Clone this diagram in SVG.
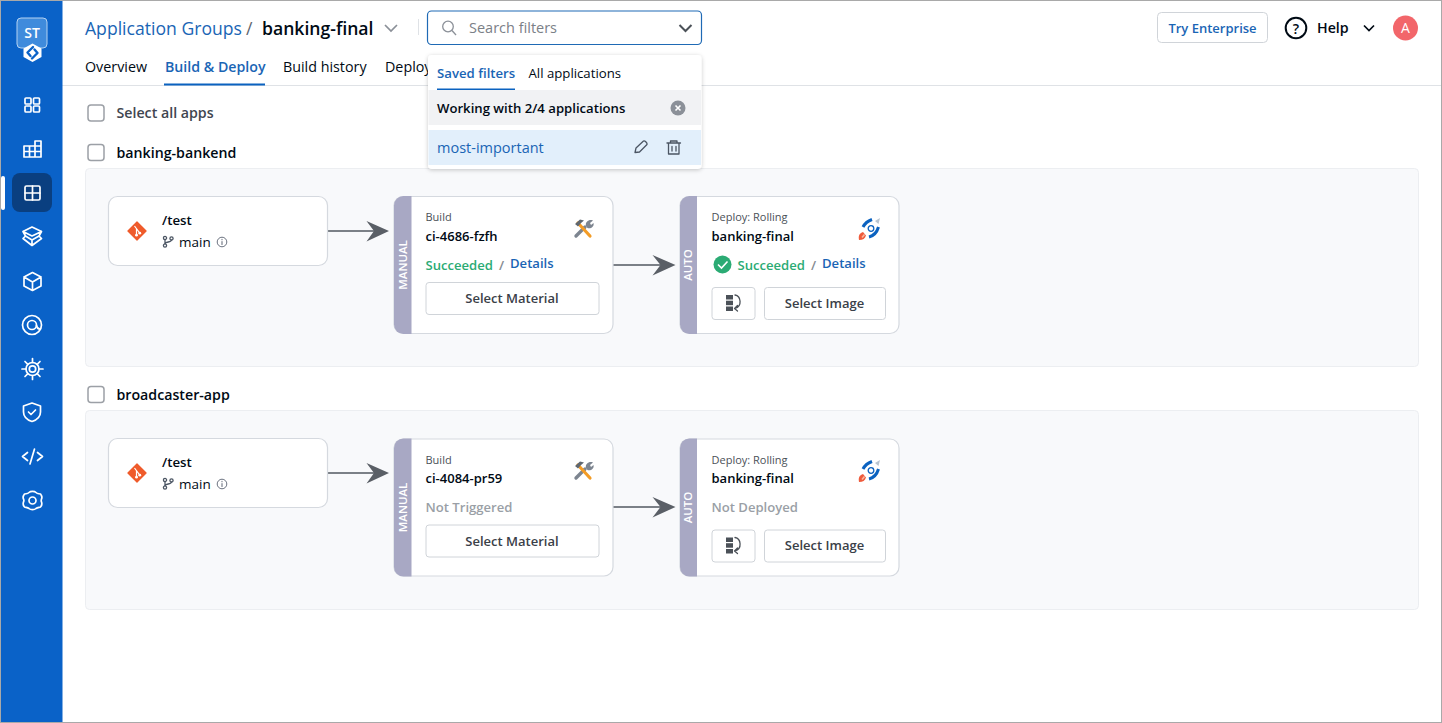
<svg xmlns="http://www.w3.org/2000/svg" xmlns:xlink="http://www.w3.org/1999/xlink" width="1442" height="723" viewBox="0 0 1442 723">
<style>
text{font-family:"Open Sans","Noto Sans","Liberation Sans",sans-serif;fill:#000a14}
.sb{fill:none;stroke:#fff;stroke-width:1.7;stroke-linecap:round;stroke-linejoin:round}
.ic{fill:none;stroke:#4b5563;stroke-width:1.3;stroke-linecap:round;stroke-linejoin:round}
.card{fill:#fff;stroke:#d5d9df;stroke-width:1.2}
.btn{fill:#fff;stroke:#d0d4d9;stroke-width:1}
.cb{fill:#fff;stroke:#9ca0a6;stroke-width:1.5}
.sm{font-size:11px;fill:#4b5158}
.nm{font-size:13px;font-weight:600}
.blue{fill:#1a65b5}
.bt{font-size:13px;font-weight:600;fill:#3a4048;text-anchor:middle}
.st{font-size:13.100px;font-weight:600}
.grn{fill:#2bab74}
.gry{fill:#858b92}
.side{fill:#a8a8c4}
.vt{font-size:11.500px;font-weight:600;fill:#fff;text-anchor:middle}
.conn{stroke:#7b8087;stroke-width:2;fill:none}
.head{fill:#5a5f66}
</style>
<defs>
<filter id="pop" x="-5%" y="-10%" width="110%" height="125%"><feDropShadow dx="0" dy="1" stdDeviation="2" flood-color="#000" flood-opacity=".22"/></filter>
<g id="git"><path d="M0-10.500 10.500 0 0 10.500-10.500 0Z" fill="#ef5b2b" stroke="#ef5b2b" stroke-width="1.500" stroke-linejoin="round" transform="scale(.86)"/><path d="M-2.500-5 2.800 2.200M-.5-2.800V4.200" stroke="#fff" stroke-width="1.200" fill="none"/><circle cx="-.5" cy="4.200" r="1.400" fill="#fff"/><circle cx="2.800" cy="2.200" r="1.400" fill="#fff"/></g>
<g id="branch" class="ic"><circle cx="-3" cy="-3.500" r="1.600"/><circle cx="-3" cy="4" r="1.600"/><circle cx="3.500" cy="-3" r="1.600"/><path d="M-3-2V2.400M3.500-1.500C3.500 1-3 0-3 2.400"/></g>
<g id="info"><circle r="4.800" fill="none" stroke="#6b7280" stroke-width="1"/><path d="M0-.5V2.500M0-2.600V-2.300" stroke="#6b7280" stroke-width="1.100" stroke-linecap="round"/></g>
<g id="tools"><path d="M-8 7 1-2" stroke="#7d8590" stroke-width="3.400" stroke-linecap="round"/><path d="M-6-6 6 7" stroke="#f39c26" stroke-width="3.200" stroke-linecap="round"/><path d="M-9-5-4-9.500 0-8.500-3-6-6-2.500Z" fill="#5f6770"/><path d="M2-3C1-7 5-10 9-8.500L6-6 7-4 9.500-6C10.500-2 6.500 0 3.500-1Z" fill="#7d8590"/></g>
<g id="rocket"><path d="M-10 11C-11 6-9 4-6 3L-3 6.500C-4 9.500-6 11-10 11Z" fill="#ef5b3c"/><path d="M-7 8.500-4.500 5.500" stroke="#f9b9a0" stroke-width="1.500"/><path d="M-6-2C-4-6-1-8 3-9.500" stroke="#0b62c0" stroke-width="3" fill="none"/><path d="M6-8 11-11 9.500-5Z" fill="#b9c4d0"/><path d="M0 8C4 7 8 3 9.500-2" stroke="#0b62c0" stroke-width="3" fill="none"/><circle cx="2" cy="-.5" r="2.800" fill="#fff" stroke="#0b62c0" stroke-width="1.300"/></g>
<g id="rollback"><rect x="-7" y="-8" width="7" height="4.500" fill="#4b5158"/><rect x="-7" y="-2.300" width="7" height="4.500" fill="#4b5158"/><rect x="-7" y="3.500" width="7" height="4.500" fill="#4b5158"/><path d="M2-8C8-7 9.500 3 2 5.500M4.500 2.500 1.500 5.500 4.500 8" fill="none" stroke="#4b5158" stroke-width="1.300" stroke-linecap="round" stroke-linejoin="round"/></g>
</defs>
<rect width="1442" height="723" fill="#fff"/>
<g id="frame-lines"><rect x="62" y="85" width="1380" height="1" fill="#dfe2e6"/></g>

<g id="sidebar">
<rect x="1" y="1" width="61.500" height="722" fill="#0a62c8"/>
<rect x="1" y="176" width="4" height="34" rx="2" fill="#fff"/>
<rect x="12" y="173" width="40" height="39" rx="8" fill="#0a3f80"/>
<g id="logo"><rect x="17" y="18" width="30" height="30" rx="4" fill="#3f8bdc" stroke="#b4d2f2" stroke-width="1"/><text x="32" y="38" text-anchor="middle" font-size="14" font-weight="600" style="fill:#fff">ST</text><path d="M32.500 43.500 41.500 48.500 41.500 57 32.500 62 23.500 57 23.500 48.500Z" fill="#fff"/><path d="M33 47 27.500 52.500 30.500 56M32 58.500 37.500 53 34.500 49.500" stroke="#0a62c8" stroke-width="2.400" fill="none" stroke-linecap="round" stroke-linejoin="round"/></g>
<g id="i1" class="sb"><rect x="25" y="98" width="6" height="6" rx="1"/><rect x="33.500" y="98" width="6" height="6" rx="1"/><rect x="25" y="106" width="6" height="6" rx="1"/><rect x="33.500" y="106" width="6" height="6" rx="1"/></g>
<g id="i2" class="sb"><path d="M24 146H41V157H24ZM24 151.500H41M29.500 146V157M35 146V157M35 146V141H41V146"/></g>
<g id="i3" class="sb"><rect x="25" y="186" width="15" height="14" rx="1.500"/><path d="M32.500 186V200M25 193H40"/></g>
<g id="i4" class="sb"><path d="M32 227 41.500 231.500 32 236 23 231.500ZM23 231.500 25.500 236 23 238.500 32 245.500 41.500 238.500 39 236 41.500 231.500M25.500 236 32 240 39 236M32 240V245"/></g>
<g id="i5" class="sb"><path d="M32.500 272.500 41 277V286L32.500 290.500 24 286V277ZM24 277 32.500 282 41 277M32.500 282V290.500"/></g>
<g id="i6" class="sb"><circle cx="32" cy="325" r="9.500"/><circle cx="32" cy="325" r="4.500"/><path d="M36.500 325.500C37 328 38.500 329 40 329"/></g>
<g id="i7" class="sb"><circle cx="32.500" cy="369" r="3.200"/><circle cx="32.500" cy="369" r="6.500"/><path d="M32.500 358.500V362.500M32.500 375.500V379.500M22 369H26M39 369H43M25 361.500 27.800 364.300M37.200 373.700 40 376.500M25 376.500 27.800 373.700M37.200 364.300 40 361.500"/></g>
<g id="i8" class="sb"><path d="M32 403 40.500 406V412C40.500 417 36.500 420 32 421.500 27.500 420 23.500 417 23.500 412V406ZM28.500 412 31 414.500 35.500 410"/></g>
<g id="i9" class="sb"><path d="M27.500 452.500 22.500 456.500 27.500 460.500M37.500 452.500 42.500 456.500 37.500 460.500M34.500 449 30 464"/></g>
<g id="i10" class="sb"><circle cx="32.500" cy="500.500" r="3.500"/><path d="M29 492.500C30.500 491 34.500 491 36 492.500 37.500 494 39 493.500 40.500 494 42 496 42 498 41.500 499 41 500.500 41 501 41.500 502 42 503.500 42 505.500 40.500 507 39 507.500 37.500 507.500 36 508.500 34.500 510 30.500 510 29 508.500 27.500 507.500 26 507.500 24.500 507 23 505.500 23 503.500 23.500 502 24 501 24 500 23.500 499 23 498 23 496 24.500 494 26 493.500 27.500 494 29 492.500Z"/></g>
</g>

<g id="header">
<text x="85" y="34.500" font-size="17.600" class="blue">Application Groups</text>
<text x="246" y="34.500" font-size="17.600" style="fill:#5f6770">/</text>
<text x="262" y="34.500" font-size="17.600" font-weight="600">banking-final</text>
<path d="M385 25 391 31 397 25" fill="none" stroke="#8b9098" stroke-width="1.700"/>
<rect x="418" y="19" width="1" height="16" fill="#dfe2e6"/>
<text x="85" y="72" font-size="14.300">Overview</text>
<text x="165" y="72" font-size="14.200" font-weight="600" class="blue">Build &amp; Deploy</text>
<rect x="164" y="83.500" width="101" height="2" fill="#0b62c0"/>
<text x="283" y="72" font-size="14.300">Build history</text>
<text x="385" y="72" font-size="14.300">Deploy</text>
</g>

<g id="try-enterprise"><rect x="1157.500" y="12.500" width="110" height="30" rx="4" class="btn"/><text x="1212.500" y="33" text-anchor="middle" font-size="13" font-weight="600" class="blue">Try Enterprise</text></g>
<g id="help"><circle cx="1296" cy="28" r="10.300" fill="none" stroke="#000a14" stroke-width="2"/><text x="1296" y="33.500" text-anchor="middle" font-size="14" font-weight="600">?</text><text x="1317" y="33" font-size="14.200" font-weight="600">Help</text><path d="M1364 25.500 1369 30.500 1374 25.500" fill="none" stroke="#000a14" stroke-width="1.700"/></g>
<g id="avatar"><circle cx="1405.500" cy="28" r="12.500" fill="#f2666a"/><text x="1405.500" y="33" text-anchor="middle" font-size="14" style="fill:#fff">A</text></g>

<g id="select-all"><rect x="88" y="105" width="16" height="16" rx="3" class="cb"/><text x="116.500" y="118" font-size="14.200" font-weight="600" style="fill:#3f4650">Select all apps</text></g>
<g id="app-1-title"><rect x="88" y="144.500" width="16" height="16" rx="3" class="cb"/><text x="116.500" y="158" font-size="14.200" font-weight="600">banking-bankend</text></g>
<rect id="app-1-panel" x="85.500" y="168.500" width="1333" height="198" rx="4" fill="#f8f9fb" stroke="#eceef1"/>
<g id="app-2-title"><rect x="88" y="386.500" width="16" height="16" rx="3" class="cb"/><text x="116.500" y="400" font-size="14.200" font-weight="600">broadcaster-app</text></g>
<rect id="app-2-panel" x="85.500" y="410.500" width="1333" height="199" rx="4" fill="#f8f9fb" stroke="#eceef1"/>

<g id="connectors">
<path class="conn" d="M328 231H380"/><path class="head" d="M389 231 366.500 221 374 231 366.500 241.500Z"/>
<path class="conn" d="M613 265H666"/><path class="head" d="M675.500 265 652.500 255 660.500 265 652.500 275.500Z"/>
<path class="conn" d="M328 473H380"/><path class="head" d="M389 473 366.500 463 374 473 366.500 483.500Z"/>
<path class="conn" d="M613 507H666"/><path class="head" d="M675.500 507 652.500 497 660.500 507 652.500 517.500Z"/>
</g>

<g id="src-1"><rect x="108.500" y="196.500" width="219" height="69" rx="9" class="card"/><use href="#git" x="137" y="231"/><text x="162" y="225" font-size="13.300" font-weight="600">/test</text><use href="#branch" x="168" y="241.500"/><text x="179" y="247" font-size="13.500" font-weight="500">main</text><use href="#info" x="222" y="242"/></g>
<g id="build-1"><rect x="394" y="196.500" width="219" height="137" rx="9" class="card"/><path class="side" d="M411.500 196H403.500A9.500 9.500 0 0 0 394 205.500V324.500A9.500 9.500 0 0 0 403.500 334H411.500Z"/><text class="vt" transform="translate(407 265) rotate(-90)">MANUAL</text><text x="425.500" y="221" class="sm">Build</text><text x="425.500" y="241" class="nm">ci-4686-fzfh</text><use href="#tools" x="584" y="229"/><text x="425.500" y="269.500" class="st grn">Succeeded</text><text x="499" y="269.500" class="st gry">/</text><text x="510" y="268" class="st blue">Details</text><rect x="426" y="282.500" width="173" height="32" rx="3" class="btn"/><text x="512" y="303" class="bt">Select Material</text></g>
<g id="deploy-1"><rect x="680" y="196.500" width="219" height="137" rx="9" class="card"/><path class="side" d="M697 196H689.500A9.500 9.500 0 0 0 680 205.500V324.500A9.500 9.500 0 0 0 689.500 334H697Z"/><text class="vt" transform="translate(692 265) rotate(-90)">AUTO</text><text x="711.500" y="221" class="sm">Deploy: Rolling</text><text x="711.500" y="241" class="nm">banking-final</text><use href="#rocket" x="869" y="229"/><circle cx="722.500" cy="264.500" r="9" fill="#2bab74"/><path d="M718 264.500 721.500 268 727.500 261.500" fill="none" stroke="#fff" stroke-width="1.600"/><text x="737.500" y="269.500" class="st grn">Succeeded</text><text x="811" y="269.500" class="st gry">/</text><text x="822" y="268" class="st blue">Details</text><rect x="712" y="287.500" width="43" height="32" rx="3" class="btn"/><use href="#rollback" x="733" y="303"/><rect x="764.500" y="287.500" width="121" height="32" rx="3" class="btn"/><text x="824.500" y="307.500" class="bt">Select Image</text></g>

<g id="src-2"><rect x="108.500" y="438.500" width="219" height="69" rx="9" class="card"/><use href="#git" x="137" y="473"/><text x="162" y="467" font-size="13.300" font-weight="600">/test</text><use href="#branch" x="168" y="483.500"/><text x="179" y="489" font-size="13.500" font-weight="500">main</text><use href="#info" x="222" y="484"/></g>
<g id="build-2"><rect x="394" y="439" width="219" height="137" rx="9" class="card"/><path class="side" d="M411.500 438.500H403.500A9.500 9.500 0 0 0 394 448V567A9.500 9.500 0 0 0 403.500 576.500H411.500Z"/><text class="vt" transform="translate(407 507.500) rotate(-90)">MANUAL</text><text x="425.500" y="464" class="sm">Build</text><text x="425.500" y="483" class="nm">ci-4084-pr59</text><use href="#tools" x="584" y="471"/><text x="425.500" y="512" class="st" style="fill:#9a9fa6">Not Triggered</text><rect x="426" y="525" width="173" height="32" rx="3" class="btn"/><text x="512" y="545.500" class="bt">Select Material</text></g>
<g id="deploy-2"><rect x="680" y="439" width="219" height="137" rx="9" class="card"/><path class="side" d="M697 438.500H689.500A9.500 9.500 0 0 0 680 448V567A9.500 9.500 0 0 0 689.500 576.500H697Z"/><text class="vt" transform="translate(692 507.500) rotate(-90)">AUTO</text><text x="711.500" y="464" class="sm">Deploy: Rolling</text><text x="711.500" y="483" class="nm">banking-final</text><use href="#rocket" x="869" y="471"/><text x="711.500" y="512" class="st" style="fill:#9a9fa6">Not Deployed</text><rect x="712" y="530" width="43" height="32" rx="3" class="btn"/><use href="#rollback" x="733" y="545.500"/><rect x="764.500" y="530" width="121" height="32" rx="3" class="btn"/><text x="824.500" y="550" class="bt">Select Image</text></g>

<g id="search-filters"><rect x="427.500" y="11" width="274" height="33.500" rx="4" fill="#fff" stroke="#1f6ab5" stroke-width="1.200"/><circle cx="448" cy="26.500" r="5.300" fill="none" stroke="#8b9098" stroke-width="1.300"/><path d="M452 30.500 456 35" stroke="#8b9098" stroke-width="1.300"/><text x="469" y="33" font-size="14.500" font-weight="500" style="fill:#7b8087">Search filters</text><path d="M679.500 25 685.500 31 691.500 25" fill="none" stroke="#4b5158" stroke-width="2"/></g>
<g id="filter-popup">
<rect x="428" y="55" width="273.500" height="114" rx="4" fill="#fff" filter="url(#pop)"/>
<text x="437" y="78" font-size="13.200" font-weight="600" class="blue">Saved filters</text>
<text x="528.500" y="78" font-size="13.200">All applications</text>
<rect x="437" y="88.500" width="78" height="2" fill="#0b62c0"/>
<rect x="428.500" y="90" width="272.500" height="35" fill="#f1f2f4"/>
<text x="437" y="113" font-size="13.150" font-weight="600">Working with 2/4 applications</text>
<circle cx="678" cy="108" r="7.500" fill="#8b9098"/><path d="M675.500 105.500 680.500 110.500M680.500 105.500 675.500 110.500" stroke="#fff" stroke-width="1.600"/>
<rect x="428.500" y="130" width="272.500" height="35" fill="#e2effb"/>
<text x="437" y="152.500" font-size="14.500" class="blue" style="font-weight:500">most-important</text>
<path class="ic" d="M635 152.500 636 148 643.500 141C645 140.500 647.500 143 647 144.500L639.500 152Z"/>
<path class="ic" d="M667 143H680.500M670.500 143V141H677V143M668.500 143V154H679V143M672 146.500V151M676 146.500V151"/>
</g>
<rect x="0.500" y="0.500" width="1441" height="722" fill="none" stroke="#a9a9a9"/>
</svg>
